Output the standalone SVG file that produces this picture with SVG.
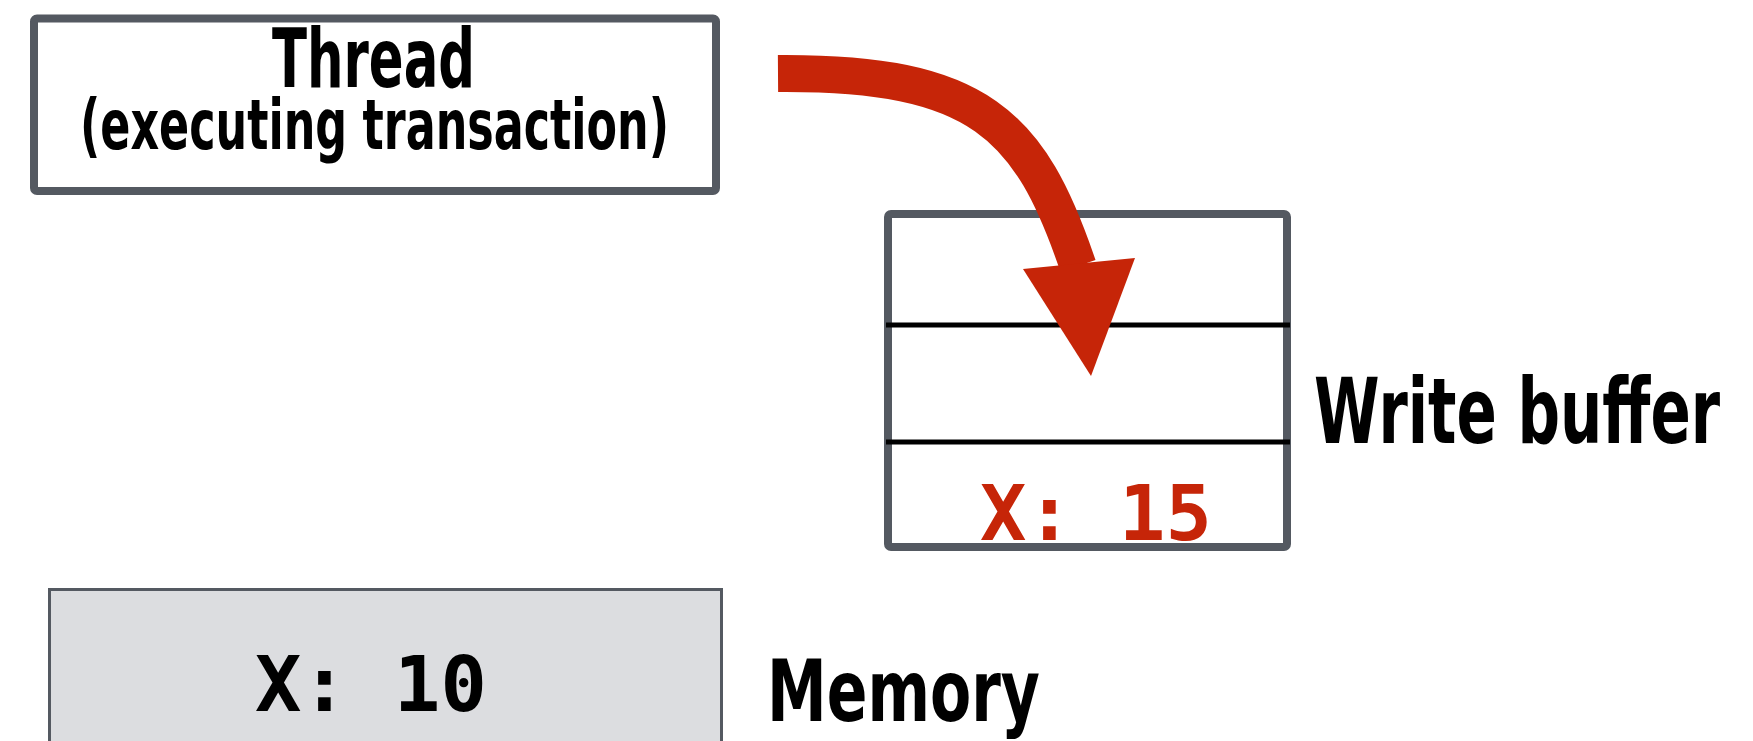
<svg xmlns="http://www.w3.org/2000/svg" width="1753" height="741" viewBox="0 0 1753 741">
<style>
.box{fill:#ffffff;stroke:#545961;stroke-width:8}
.lbl{font-family:"Liberation Sans Narrow","DejaVu Sans Condensed","Liberation Sans",sans-serif;font-weight:bold;font-stretch:condensed;fill:#000}
.mono{font-family:"DejaVu Sans Mono","Liberation Mono",monospace;font-weight:bold;font-size:77px;font-variant-numeric:slashed-zero}
.sep{stroke:#000;stroke-width:5}
.arrow{fill:none;stroke:#C62508;stroke-width:37}
</style>
<rect width="1753" height="741" fill="#ffffff"/>
<g id="thread">
<rect class="box" x="34" y="18.5" width="682" height="172.5" rx="3"/>
<text class="lbl" x="373.5" y="87" font-size="82" text-anchor="middle" textLength="203" lengthAdjust="spacingAndGlyphs">Thread</text>
<text class="lbl" x="374.5" y="149" font-size="69" text-anchor="middle" textLength="589" lengthAdjust="spacingAndGlyphs">(executing transaction)</text>
</g>
<g id="write-buffer">
<rect class="box" x="888" y="214" width="399" height="333" rx="3" stroke-width="7"/>
<line class="sep" x1="886" y1="325" x2="1290" y2="325"/>
<line class="sep" x1="886" y1="442" x2="1290" y2="442"/>
<text class="mono" x="980" y="540" fill="#C62508">X: 15</text>
<text class="lbl" x="1314" y="443" font-size="91" textLength="406" lengthAdjust="spacingAndGlyphs">Write buffer</text>
</g>
<g id="memory">
<rect x="49.5" y="589.5" width="672" height="200" fill="#dcdde0" stroke="#545961" stroke-width="3"/>
<text class="mono" x="255" y="711" fill="#000">X: 10</text>
<text class="lbl" x="767" y="721" font-size="86" textLength="273" lengthAdjust="spacingAndGlyphs">Memory</text>
</g>
<g id="connectors">
<path class="arrow" d="M778,73.5 C980,72 1030,125 1078,266"/>
<polygon points="1023,269 1135,258 1091,376" fill="#C62508"/>
</g>
</svg>
